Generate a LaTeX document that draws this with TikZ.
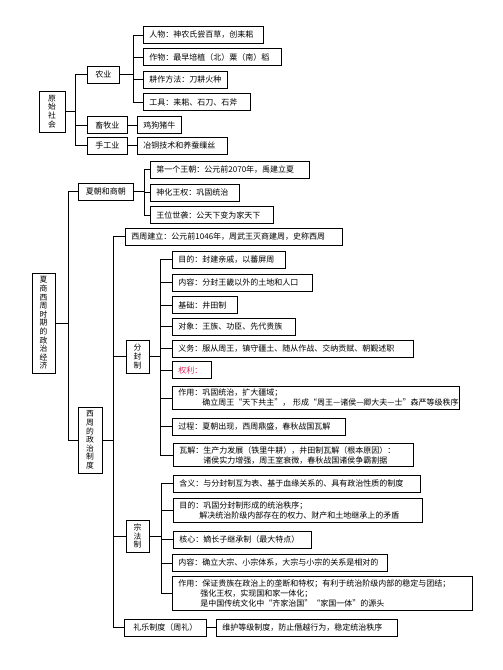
\documentclass[tikz,border=0pt]{standalone}
\usepackage{fontspec}
\usepackage{xcolor}
\usepackage{tikz}
\newfontfamily\zh{Noto Sans CJK SC}
\definecolor{Rose}{HTML}{D8285A}

\begin{document}
\begin{tikzpicture}[x=1pt,y=-1pt,
    font=\zh\fontsize{8}{10}\selectfont,
    item/.style={draw,line width=0.9pt,anchor=west,inner xsep=6pt,inner ysep=3pt,
      minimum height=17pt,align=left,text width=#1},
    cat/.style={item=#1,align=center},
    vbox/.style={draw,line width=0.9pt,align=center,inner xsep=0pt,inner ysep=3pt,
      font=\zh\fontsize{7.8}{8.6}\selectfont},
    link/.style={line width=0.7pt}]
  \useasboundingbox (0,0) rectangle (503,670);
  % 原始社会
  \node[vbox,minimum width=26pt,minimum height=41pt] (ysh) at (52,111.5) {原\\始\\社\\会};
  \node[cat=20pt] (nongye) at (87,74.5) {农业};
  \node[cat=28pt] (xumu) at (87,125) {畜牧业};
  \node[cat=28pt] (shougong) at (87,145.5) {手工业};
  \node[item=108pt] (renwu) at (143,35) {人物：神农氏尝百草，创耒耜};
  \node[item=126pt] (zuowu) at (143,57) {作物：最早培植（北）粟（南）稻};
  \node[item=72pt] (gengzuo) at (143,79.5) {耕作方法：刀耕火种};
  \node[item=95pt] (gongju) at (143,102) {工具：耒耜、石刀、石斧};
  \node[item=32pt] (jigou) at (137,125) {鸡狗猪牛};
  \node[item=78pt] (yetong) at (137,145.5) {冶铜技术和养蚕缫丝};
  \draw[link] (ysh.east) -- ++(10,0) |- (nongye.west);
  \draw[link] (ysh.east) -- ++(10,0) |- (xumu.west);
  \draw[link] (ysh.east) -- ++(10,0) |- (shougong.west);
  \draw[link] (nongye.east) -- ++(13,0) |- (renwu.west);
  \draw[link] (nongye.east) -- ++(13,0) |- (zuowu.west);
  \draw[link] (nongye.east) -- ++(13,0) |- (gengzuo.west);
  \draw[link] (nongye.east) -- ++(13,0) |- (gongju.west);
  \draw[link] (xumu) -- (jigou);
  \draw[link] (shougong) -- (yetong);
  % 夏商西周
  \node[vbox,minimum width=23pt,minimum height=100pt] (xsxz) at (43.5,323) {夏\\商\\西\\周\\时\\期\\的\\政\\治\\经\\济};
  \node[cat=43pt] (xiashang) at (78,191.5) {夏朝和商朝};
  \node[item=147pt] (diyi) at (150,169.5) {第一个王朝：公元前2070年，禹建立夏};
  \node[item=77pt] (shenhua) at (150,192.5) {神化王权：巩固统治};
  \node[item=111pt] (wangwei) at (150,215) {王位世袭：公天下变为家天下};
  \node[vbox,minimum width=24pt,minimum height=66pt] (xizhou) at (90,440) {西\\周\\的\\政\\治\\制\\度};
  \node[item=205pt] (jianli) at (125,236.5) {西周建立：公元前1046年，周武王灭商建周，史称西周};
  \node[vbox,minimum width=23pt,minimum height=33pt] (fenfeng) at (137.5,356.5) {分\\封\\制};
  \node[vbox,minimum width=23pt,minimum height=32pt] (zongfa) at (137.5,536) {宗\\法\\制};
  \node[cat=70pt] (liyue) at (124,627.5) {礼乐制度（周礼）};
  \node[item=169pt] (weihu) at (216,627.5) {维护等级制度，防止僭越行为，稳定统治秩序};
  \draw[link] (xsxz.east) -- ++(13,0) |- (xiashang.west);
  \draw[link] (xsxz.east) -- ++(13,0) |- (xizhou.west);
  \draw[link] (xiashang.east) -- ++(10,0) |- (diyi.west);
  \draw[link] (xiashang.east) -- ++(10,0) |- (shenhua.west);
  \draw[link] (xiashang.east) -- ++(10,0) |- (wangwei.west);
  \draw[link] (xizhou.east) -- ++(11,0) |- (jianli.west);
  \draw[link] (xizhou.east) -- ++(11,0) |- (fenfeng.west);
  \draw[link] (xizhou.east) -- ++(11,0) |- (zongfa.west);
  \draw[link] (xizhou.east) -- ++(11,0) |- (liyue.west);
  \draw[link] (liyue) -- (weihu);
  % 分封制
  \node[item=101pt] (fmudi) at (172,259.5) {目的：封建亲戚，以蕃屏周};
  \node[item=128pt] (fneirong) at (172,282.5) {内容：分封王畿以外的土地和人口};
  \node[item=53pt] (jichu) at (172,305) {基础：井田制};
  \node[item=111pt] (duixiang) at (172,326.5) {对象：王族、功臣、先代贵族};
  \node[item=229pt] (yiwu) at (172,348.5) {义务：服从周王，镇守疆土、随从作战、交纳贡赋、朝觐述职};
  \node[item=27pt,text=Rose] (quanli) at (172,370) {权利：};
  \node[item=275pt] (fzuoyong) at (172,398) {作用：巩固统治，扩大疆域；\\\hspace*{24pt}\mbox{确立周王“天下共主”，~形成“周王—诸侯—卿大夫—士”森严等级秩序}};
  \node[item=161pt] (guocheng) at (172,426.5) {过程：夏朝出现，西周鼎盛，春秋战国瓦解};
  \node[item=228pt] (wajie) at (173,455) {瓦解：生产力发展（铁里牛耕），井田制瓦解（根本原因）：\\\hspace*{24pt}诸侯实力增强，周王室衰微，春秋战国诸侯争霸割据};
  \draw[link] (fenfeng.east) -- ++(11,0) |- (fmudi.west);
  \draw[link] (fenfeng.east) -- ++(11,0) |- (fneirong.west);
  \draw[link] (fenfeng.east) -- ++(11,0) |- (jichu.west);
  \draw[link] (fenfeng.east) -- ++(11,0) |- (duixiang.west);
  \draw[link] (fenfeng.east) -- ++(11,0) |- (yiwu.west);
  \draw[link] (fenfeng.east) -- ++(11,0) |- (quanli.west);
  \draw[link] (fenfeng.east) -- ++(11,0) |- (fzuoyong.west);
  \draw[link] (fenfeng.east) -- ++(11,0) |- (guocheng.west);
  \draw[link] (fenfeng.east) -- ++(11,0) |- (wajie.west);
  % 宗法制
  \node[item=235pt] (hanyi) at (173,483.5) {含义：与分封制互为表、基于血缘关系的、具有政治性质的制度};
  \node[item=237pt] (zmudi) at (173,510.5) {目的：巩固分封制形成的统治秩序；\\\hspace*{20pt}解决统治阶级内部存在的权力、财产和土地继承上的矛盾};
  \node[item=126pt] (hexin) at (173,539.5) {核心：嫡长子继承制（最大特点）};
  \node[item=203pt] (zneirong) at (172,563) {内容：确立大宗、小宗体系，大宗与小宗的关系是相对的};
  \node[item=288pt] (zzuoyong) at (172,593.5) {作用：保证贵族在政治上的垄断和特权；有利于统治阶级内部的稳定与团结；\\\hspace*{22pt}强化王权，实现国和家一体化；\\\hspace*{22pt}是中国传统文化中“齐家治国”“家国一体”的源头};
  \draw[link] (zongfa.east) -- ++(12,0) |- (hanyi.west);
  \draw[link] (zongfa.east) -- ++(12,0) |- (zmudi.west);
  \draw[link] (zongfa.east) -- ++(12,0) |- (hexin.west);
  \draw[link] (zongfa.east) -- ++(12,0) |- (zneirong.west);
  \draw[link] (zongfa.east) -- ++(12,0) |- (zzuoyong.west);
\end{tikzpicture}
\end{document}
